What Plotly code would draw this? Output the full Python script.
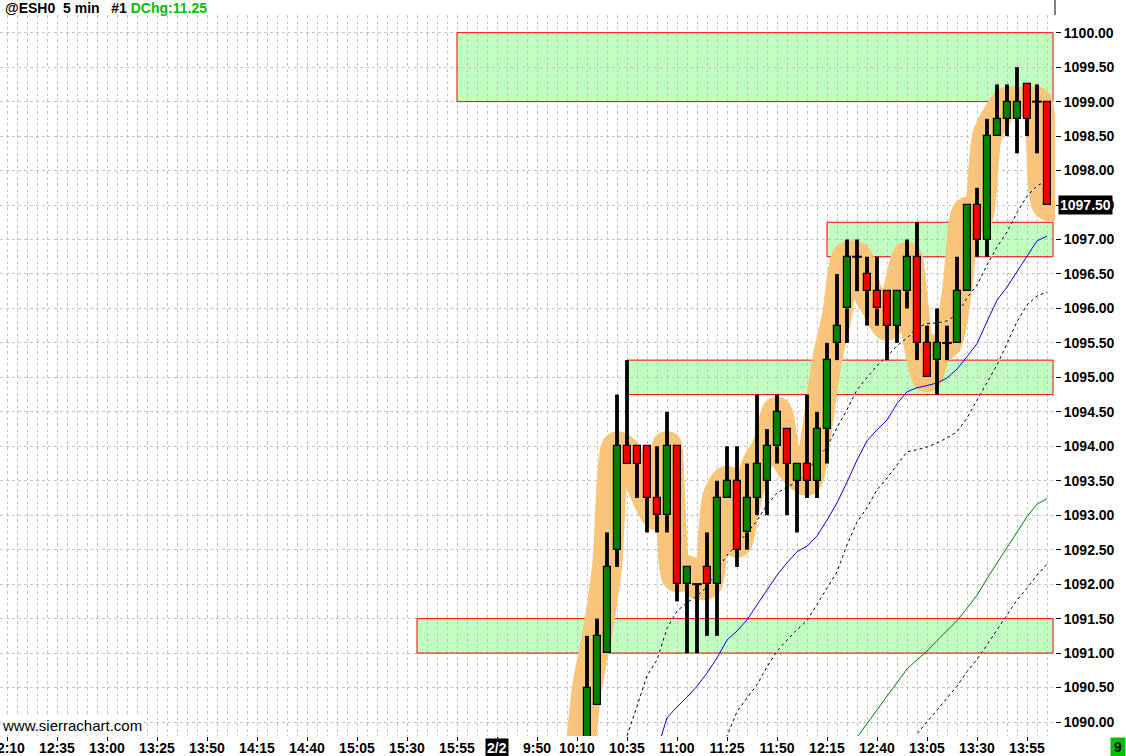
import plotly.graph_objects as go


def session(day, start, end):
    h, m = map(int, start.split(":"))
    t = h * 60 + m
    h, m = map(int, end.split(":"))
    t1 = h * 60 + m
    out = []
    while t <= t1:
        out.append(f"{day} {t // 60}:{t % 60:02d}")
        t += 5
    return out


# ---------------- data ----------------
bar_times = session("2/1", "12:10", "16:10") + session("2/2", "9:30", "14:05")

tick_times = ["2/1 12:10", "2/1 12:35", "2/1 13:00", "2/1 13:25", "2/1 13:50", "2/1 14:15",
              "2/1 14:40", "2/1 15:05", "2/1 15:30", "2/1 15:55", "2/2 9:30", "2/2 9:50",
              "2/2 10:10", "2/2 10:35", "2/2 11:00", "2/2 11:25", "2/2 11:50", "2/2 12:15",
              "2/2 12:40", "2/2 13:05", "2/2 13:30", "2/2 13:55"]
day_change_tick = "2/2 9:30"
day_change_label = "2/2"

candle_first = "2/2 10:15"
opens = [1089.50, 1090.25, 1091.00, 1092.50, 1094.00, 1094.00, 1094.00, 1093.25, 1093.00, 1094.00,
         1092.00, 1092.00, 1092.25, 1092.00, 1093.25, 1093.50, 1092.75, 1093.25, 1093.50, 1094.00,
         1094.25, 1093.50, 1093.75, 1093.50, 1094.25, 1095.50, 1096.00, 1096.75, 1096.50, 1096.25,
         1096.25, 1095.75, 1096.25, 1096.75, 1095.50, 1095.25, 1095.50, 1095.50, 1096.25, 1097.50,
         1097.00, 1098.50, 1098.75, 1098.75, 1099.25, 1099.00, 1099.00]
highs = [1091.25, 1091.50, 1092.75, 1094.75, 1095.25, 1094.00, 1094.00, 1094.00, 1094.50, 1094.00,
         1092.25, 1092.00, 1092.75, 1093.50, 1094.00, 1094.00, 1093.75, 1094.75, 1094.25, 1094.75,
         1094.25, 1093.75, 1094.75, 1094.50, 1095.50, 1096.50, 1097.00, 1097.00, 1096.75, 1096.75,
         1096.25, 1096.25, 1097.00, 1097.25, 1095.75, 1096.00, 1095.75, 1096.75, 1097.50, 1097.75,
         1098.75, 1099.25, 1099.25, 1099.50, 1099.25, 1099.25, 1099.00]
lows = [1089.25, 1090.25, 1091.00, 1092.25, 1093.75, 1093.25, 1092.75, 1092.75, 1092.75, 1091.75,
        1091.00, 1091.00, 1091.25, 1091.25, 1093.25, 1092.25, 1092.50, 1093.00, 1093.00, 1093.75,
        1093.00, 1092.75, 1093.25, 1093.25, 1093.75, 1095.25, 1095.50, 1096.25, 1095.75, 1095.75,
        1095.25, 1095.50, 1096.00, 1095.25, 1095.00, 1094.75, 1095.25, 1095.50, 1096.25, 1096.75,
        1096.75, 1098.50, 1098.50, 1098.25, 1098.50, 1098.25, 1097.50]
closes = [1090.50, 1091.25, 1092.25, 1094.00, 1093.75, 1093.75, 1093.25, 1093.00, 1094.00, 1092.00,
          1092.25, 1092.00, 1092.00, 1093.25, 1093.50, 1092.50, 1093.25, 1093.75, 1094.00, 1094.50,
          1093.75, 1093.75, 1093.50, 1094.25, 1095.25, 1095.75, 1096.75, 1096.75, 1096.25, 1096.00,
          1095.75, 1096.25, 1096.75, 1095.50, 1095.00, 1095.50, 1095.50, 1096.25, 1097.50, 1097.00,
          1098.50, 1098.75, 1099.00, 1099.00, 1098.75, 1099.00, 1097.50]

# hand-drawn highlight path (orange band)
band_first = "2/2 10:10"
band_vals = [1089.0, 1090.5, 1091.25, 1092.25, 1094.0, 1093.9, 1093.6, 1093.25, 1093.0, 1094.0,
             1092.1, 1092.2, 1092.0, 1092.0, 1093.25, 1093.5, 1092.6, 1093.25, 1093.75, 1094.0,
             1094.5, 1093.8, 1093.6, 1093.5, 1094.25, 1095.25, 1095.9, 1096.75, 1096.75, 1096.25,
             1096.0, 1095.75, 1096.2, 1096.75, 1095.6, 1095.0, 1095.4, 1095.5, 1096.25, 1097.4,
             1097.3, 1098.5, 1098.8, 1099.0, 1099.0, 1099.0, 1099.0, 1097.5]

# study lines
ma1_first = "2/2 10:30"   # black dashed (upper)
ma1_vals = [1089.30, 1089.80, 1090.23, 1090.67, 1090.90, 1091.36, 1091.61, 1091.73, 1091.83, 1091.96,
            1092.21, 1092.42, 1092.58, 1092.74, 1092.92, 1093.15, 1093.32, 1093.41, 1093.48, 1093.64,
            1093.82, 1093.99, 1094.27, 1094.53, 1094.82, 1094.99, 1095.17, 1095.30, 1095.46, 1095.57,
            1095.72, 1095.78, 1095.79, 1095.82, 1095.91, 1096.15, 1096.34, 1096.63, 1096.89, 1097.11,
            1097.39, 1097.63, 1097.78, 1097.85]
ma2_first = "2/2 10:50"   # blue
ma2_vals = [1089.59, 1090.06, 1090.22, 1090.36, 1090.52, 1090.71, 1090.93, 1091.19, 1091.32, 1091.48,
            1091.70, 1091.92, 1092.13, 1092.31, 1092.47, 1092.55, 1092.70, 1092.93, 1093.18, 1093.48,
            1093.80, 1094.08, 1094.24, 1094.38, 1094.62, 1094.79, 1094.85, 1094.88, 1094.92, 1094.99,
            1095.12, 1095.30, 1095.49, 1095.81, 1096.12, 1096.31, 1096.53, 1096.75, 1096.98, 1097.05]
ma3_first = "2/2 11:20"   # black dashed (middle)
ma3_vals = [1089.45, 1089.81, 1090.15, 1090.35, 1090.54, 1090.80, 1091.03, 1091.19, 1091.34, 1091.47,
            1091.70, 1091.94, 1092.18, 1092.57, 1092.90, 1093.11, 1093.37, 1093.54, 1093.73, 1093.92,
            1093.95, 1093.99, 1094.05, 1094.12, 1094.21, 1094.41, 1094.67, 1094.92, 1095.18, 1095.49,
            1095.81, 1096.05, 1096.18, 1096.24]
ma4_first = "2/2 12:25"   # green
ma4_vals = [1089.58, 1089.78, 1089.97, 1090.17, 1090.38, 1090.58, 1090.77, 1090.90, 1091.03, 1091.18,
            1091.32, 1091.47, 1091.65, 1091.84, 1092.08, 1092.31, 1092.54, 1092.76, 1092.98, 1093.16,
            1093.24]
ma5_first = "2/2 12:55"   # black dashed (lower)
ma5_vals = [1089.62, 1089.83, 1090.00, 1090.17, 1090.35, 1090.52, 1090.73, 1090.91, 1091.12, 1091.34,
            1091.55, 1091.77, 1091.94, 1092.13, 1092.29]

# support / resistance zones
zone_start = ["2/1 15:55", "2/2 12:15", "2/2 10:35", "2/1 15:35"]
zone_low = [1099.00, 1096.75, 1094.75, 1091.00]
zone_high = [1100.00, 1097.25, 1095.25, 1091.50]

symbol_text = "@ESH0\u00a0\u00a05\u00a0min\u00a0\u00a0\u00a0#1\u00a0"
dchg_text = "DChg:11.25"
last_price = 1097.50
watermark = "www.sierrachart.com"
corner_text = "9"

# ---------------- build ----------------
pos = {t: i for i, t in enumerate(bar_times)}
n_bars = len(bar_times)
x_lo, x_hi = -0.7, n_bars - 1 + 0.8
y_lo, y_hi = 1089.797, 1100.257
zone_end = n_bars - 1 + 0.6

GRID = "#C4C4C4"
GREEN = "#008000"
RED = "#F00000"
ORANGE = "#F8C57A"
FONT = "Liberation Sans"

fig = go.Figure()

# zone fills (under the grid)
for zs, zl, zh in zip(zone_start, zone_low, zone_high):
    fig.add_shape(type="rect", xref="x", yref="y", x0=pos[zs], x1=zone_end,
                  y0=zl, y1=zh, fillcolor="#C0FFC0", line=dict(width=0), layer="below")

# zone outlines (above the grid, below everything else)
ox, oy = [], []
for zs, zl, zh in zip(zone_start, zone_low, zone_high):
    x0 = pos[zs]
    ox += [x0, zone_end, zone_end, x0, x0, None]
    oy += [zl, zl, zh, zh, zl, None]
fig.add_trace(go.Scatter(x=ox, y=oy, mode="lines", line=dict(color="red", width=1),
                         hoverinfo="skip", zorder=-1))

# orange highlight band
b0 = pos[band_first]
bx = [b0 + i for i in range(len(band_vals))] + [x_hi + 1]
by = band_vals + [band_vals[-1]]
fig.add_trace(go.Scatter(x=bx, y=by, mode="lines",
                         line=dict(color=ORANGE, width=30, shape="spline", smoothing=0.7),
                         hoverinfo="skip", zorder=0))


def study(first, vals, color, dashed):
    s = pos[first]
    xs = [s + i for i in range(len(vals))]
    if dashed:
        fig.add_trace(go.Scatter(x=xs, y=vals, mode="lines", line=dict(color="white", width=1),
                                 hoverinfo="skip", zorder=1))
        fig.add_trace(go.Scatter(x=xs, y=vals, mode="lines",
                                 line=dict(color=color, width=1, dash="3px,3px"),
                                 hoverinfo="skip", zorder=1))
    else:
        fig.add_trace(go.Scatter(x=xs, y=vals, mode="lines", line=dict(color=color, width=1),
                                 hoverinfo="skip", zorder=1))


study(ma5_first, ma5_vals, "black", True)
study(ma4_first, ma4_vals, GREEN, False)
study(ma3_first, ma3_vals, "black", True)
study(ma2_first, ma2_vals, "#0000FF", False)
study(ma1_first, ma1_vals, "black", True)

# candles
c0 = pos[candle_first]
cx = [c0 + i for i in range(len(opens))]
wx, wy = [], []
bxs, bbase, bh, bcol = [], [], [], []
dx, dy = [], []
for x, o, h, l, c in zip(cx, opens, highs, lows, closes):
    top, bot = max(o, c), min(o, c)
    if o == c:
        wx += [x, x, None]
        wy += [l, h, None]
        dx.append(x)
        dy.append(c)
        continue
    wx += [x, x, None, x, x, None]
    wy += [l, bot, None, top, h, None]
    bxs.append(x)
    bbase.append(bot)
    bh.append(top - bot)
    bcol.append(GREEN if c > o else RED)

fig.add_trace(go.Scatter(x=wx, y=wy, mode="lines", line=dict(color="black", width=3.8),
                         hoverinfo="skip", zorder=2))
fig.add_trace(go.Bar(x=bxs, y=bh, base=bbase, width=0.7,
                     marker=dict(color=bcol, line=dict(color="black", width=1.2)),
                     hoverinfo="skip", zorder=3))
fig.add_trace(go.Scatter(x=dx, y=dy, mode="markers",
                         marker=dict(symbol="line-ew", size=7, line=dict(color="black", width=2)),
                         hoverinfo="skip", zorder=4))

# axes
tickvals = [pos[t] for t in tick_times]
ticktext = ["" if t == day_change_tick else t.split()[1] for t in tick_times]

fig.update_layout(
    width=1126, height=756,
    margin=dict(l=0, r=71, t=15, b=20, autoexpand=False),
    paper_bgcolor="white", plot_bgcolor="white",
    showlegend=False, bargap=0,
    font=dict(family=FONT, color="black"),
    xaxis=dict(range=[x_lo, x_hi], tickmode="array", tickvals=tickvals, ticktext=ticktext,
               automargin=False, ticklabeloverflow="allow", ticklabelstandoff=-5,
               ticks="outside", ticklen=4, tickcolor="black", showline=True, linecolor="black",
               linewidth=1, showgrid=True, gridcolor=GRID, griddash="3px,3px", gridwidth=1,
               zeroline=False, fixedrange=True,
               minor=dict(tickmode="linear", tick0=0, dtick=1, showgrid=True, gridcolor=GRID,
                          griddash="3px,3px", gridwidth=1, ticks=""),
               tickfont=dict(family=FONT, size=14, color="black", weight="bold")),
    yaxis=dict(range=[y_lo, y_hi], side="right", tickmode="linear", tick0=1090, dtick=0.5,
               automargin=False,
               tickformat=".2f", ticks="outside", ticklen=5, tickcolor="black",
               showline=True, mirror=True, linecolor="black", linewidth=1,
               showgrid=True, gridcolor=GRID, griddash="3px,3px", gridwidth=1,
               zeroline=False, fixedrange=True,
               tickfont=dict(family=FONT, size=14, color="black", weight="bold")),
)

# right axis line extends through header strip
fig.add_shape(type="line", xref="paper", yref="paper", x0=1, x1=1, y0=1, y1=1.03,
              line=dict(color="black", width=1))

# header
fig.add_annotation(xref="paper", yref="paper", x=0, y=1, xanchor="left", yanchor="middle",
                   xshift=3, yshift=7, showarrow=False, align="left",
                   text=f"{symbol_text}<span style='color:#00C000'>{dchg_text}</span>",
                   font=dict(family=FONT, size=14, color="black", weight="bold"))
# watermark
fig.add_annotation(xref="paper", yref="paper", x=0, y=0, xanchor="left", yanchor="bottom",
                   xshift=1, yshift=1, showarrow=False, text=watermark, bgcolor="white",
                   borderpad=0, font=dict(family=FONT, size=15, color="black"))
# last price marker
fig.add_annotation(xref="paper", yref="y", x=1, y=last_price, xanchor="left", yanchor="middle",
                   xshift=3, showarrow=False, text=f"{last_price:.2f}", bgcolor="black",
                   borderpad=1, font=dict(family=FONT, size=14, color="white", weight="bold"))
# date change label
fig.add_annotation(xref="x", yref="paper", x=pos[day_change_tick], y=0, xanchor="center",
                   yanchor="top", yshift=-2, showarrow=False, text=day_change_label,
                   bgcolor="black", borderpad=1,
                   font=dict(family=FONT, size=14, color="white", weight="bold"))
# corner indicator
fig.add_annotation(xref="paper", yref="paper", x=1, y=0, xanchor="right", yanchor="top",
                   xshift=71, yshift=-1, showarrow=False, text=corner_text, bgcolor="#00C000",
                   width=14, height=18, borderpad=0,
                   font=dict(family=FONT, size=14, color="black", weight="bold"))

fig.write_html("out.html", config={"displayModeBar": False},
               post_script="document.body.style.margin='0';"
                           "document.body.style.overflow='hidden';")
